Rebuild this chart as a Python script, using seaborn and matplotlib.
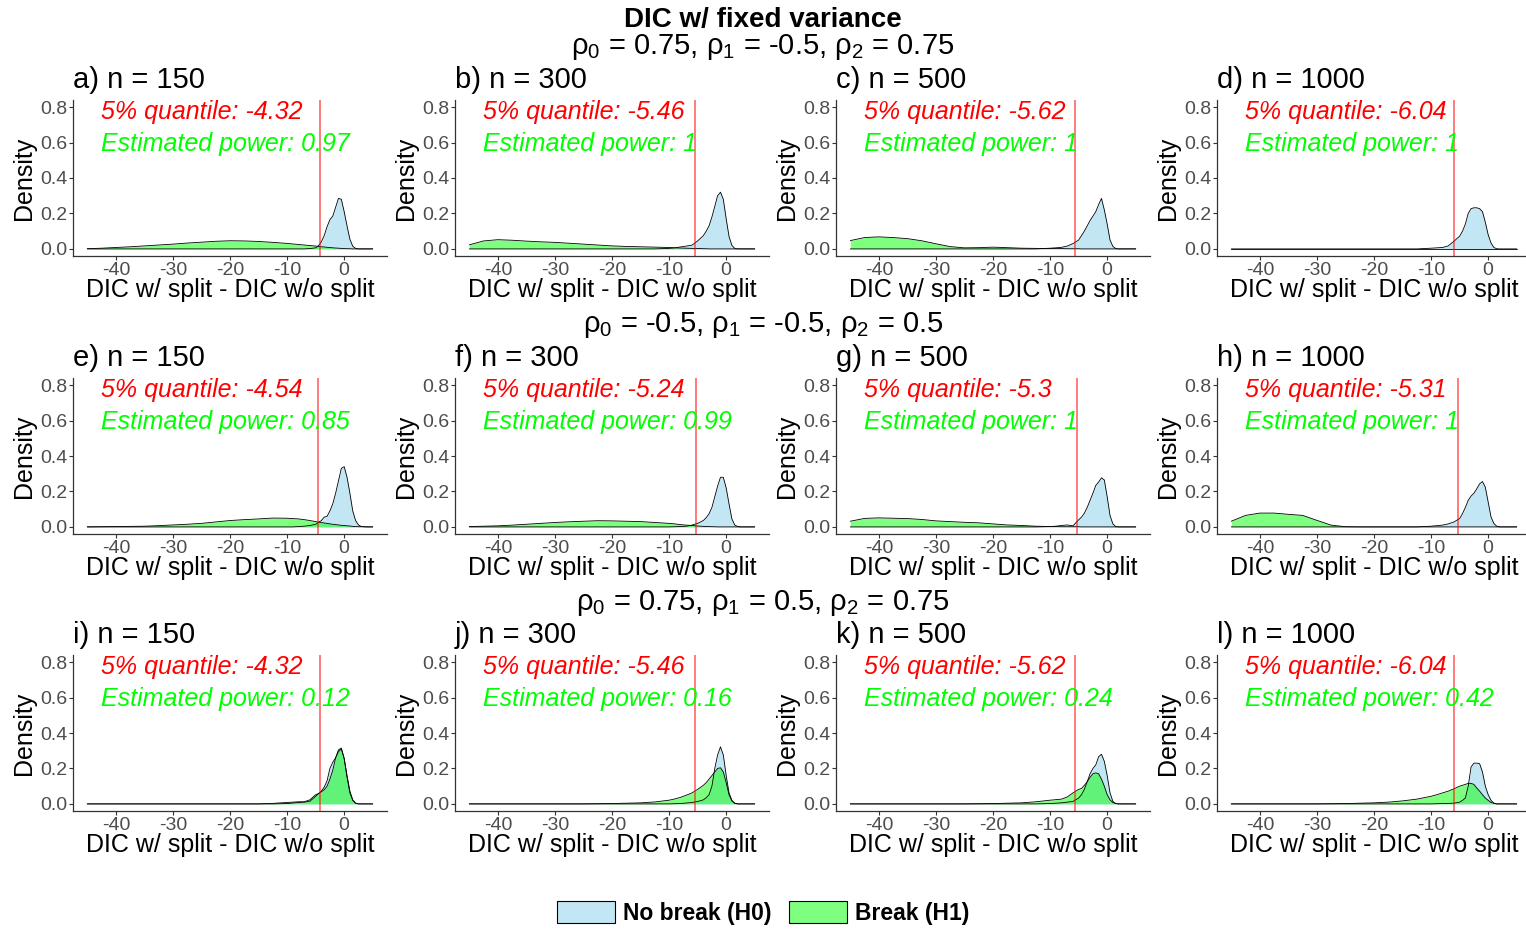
import matplotlib
matplotlib.use("Agg")
import matplotlib.pyplot as plt
import matplotlib.colors as mcolors
import seaborn as sns
from matplotlib.patches import Patch

XG = [-45, -42.5, -40, -37.5, -35, -32.5, -30, -27.5, -25, -22.5,
      -20, -17.5, -15, -12.5, -10,
      -9, -8, -7, -6, -5,
      -4.5, -4, -3.5, -3, -2.5, -2, -1.5, -1, -0.5, 0,
      0.5, 1, 1.5, 2, 2.5, 3, 4, 5]

# row 1: rho0 = 0.75, rho1 = -0.5, rho2 = 0.75
h0_a = [0]*15 + [0, 0, 0, 0.002, 0.006,
        0.018, 0.04, 0.075, 0.125, 0.165, 0.185, 0.235, 0.285, 0.28, 0.21,
        0.13, 0.055, 0.015, 0.003, 0, 0, 0, 0]
h1_a = [0.001, 0.004, 0.008, 0.012, 0.017, 0.022, 0.027, 0.033, 0.038, 0.043,
        0.046, 0.045, 0.042, 0.037, 0.031,
        0.028, 0.025, 0.022, 0.019, 0.016,
        0.014, 0.012, 0.011, 0.009, 0.008, 0.006, 0.005, 0.004, 0.003, 0.002,
        0.001, 0.001, 0, 0, 0, 0, 0, 0]
h0_b = [0]*14 + [0.003,
        0.006, 0.011, 0.016, 0.021, 0.045,
        0.06, 0.075, 0.1, 0.13, 0.18, 0.24, 0.3, 0.32, 0.28, 0.17,
        0.07, 0.02, 0.003, 0, 0, 0, 0, 0]
h1_b = [0.023, 0.045, 0.052, 0.049, 0.044, 0.04, 0.037, 0.032, 0.027, 0.022,
        0.017, 0.014, 0.012, 0.01, 0.008,
        0.006, 0.005, 0.004, 0.003, 0.002,
        0.002, 0.001, 0.001, 0, 0, 0, 0, 0, 0, 0,
        0, 0, 0, 0, 0, 0, 0, 0]
h0_c = [0]*14 + [0.004,
        0.006, 0.009, 0.016, 0.03, 0.05,
        0.075, 0.1, 0.13, 0.16, 0.185, 0.21, 0.25, 0.285, 0.22, 0.14,
        0.05, 0.014, 0.002, 0, 0, 0, 0, 0]
h1_c = [0.047, 0.064, 0.068, 0.064, 0.058, 0.046, 0.029, 0.013, 0.006, 0.007,
        0.01, 0.007, 0.004, 0.003, 0.002,
        0.002, 0.002, 0.001, 0.001, 0.001,
        0, 0, 0, 0, 0, 0, 0, 0, 0, 0,
        0, 0, 0, 0, 0, 0, 0, 0]
h0_d = [0]*14 + [0.004,
        0.006, 0.008, 0.017, 0.043, 0.072,
        0.1, 0.14, 0.2, 0.227, 0.232, 0.232, 0.227, 0.21, 0.15, 0.08,
        0.033, 0.008, 0.001, 0, 0, 0, 0, 0]
h1_d = [0]*38

# row 2: rho0 = -0.5, rho1 = -0.5, rho2 = 0.5
h0_e = [0]*15 + [0, 0.002, 0.004, 0.008, 0.015,
        0.025, 0.036, 0.055, 0.06, 0.09, 0.13, 0.19, 0.26, 0.33, 0.34,
        0.28, 0.19, 0.09, 0.036, 0.011, 0.002, 0, 0]
h1_e = [0, 0.001, 0.002, 0.003, 0.004, 0.007, 0.011, 0.015, 0.02, 0.028,
        0.036, 0.041, 0.045, 0.05, 0.049,
        0.047, 0.045, 0.041, 0.036, 0.03,
        0.027, 0.025, 0.022, 0.02, 0.017, 0.015, 0.013, 0.011, 0.009, 0.008,
        0.006, 0.005, 0.003, 0.002, 0.001, 0.001, 0, 0]
h0_f = [0]*15 + [0.001, 0.002, 0.004, 0.01, 0.02,
        0.028, 0.036, 0.052, 0.074, 0.11, 0.17, 0.23, 0.28, 0.28, 0.22,
        0.13, 0.045, 0.011, 0.002, 0, 0, 0, 0]
h1_f = [0.002, 0.004, 0.006, 0.01, 0.015, 0.02, 0.025, 0.029, 0.032, 0.035,
        0.034, 0.032, 0.03, 0.025, 0.02,
        0.017, 0.013, 0.01, 0.008, 0.005,
        0.004, 0.003, 0.002, 0.002, 0.001, 0.001, 0, 0, 0, 0,
        0, 0, 0, 0, 0, 0, 0, 0]
h0_g = [0]*14 + [0.002,
        0.004, 0.008, 0.011, 0.006, 0.04,
        0.055, 0.077, 0.11, 0.15, 0.19, 0.234, 0.253, 0.277, 0.265, 0.17,
        0.064, 0.017, 0.002, 0, 0, 0, 0, 0]
h1_g = [0.032, 0.048, 0.051, 0.049, 0.047, 0.042, 0.034, 0.03, 0.026, 0.023,
        0.017, 0.011, 0.008, 0.004, 0.002,
        0.002, 0.001, 0.001, 0.001, 0.001,
        0, 0, 0, 0, 0, 0, 0, 0, 0, 0,
        0, 0, 0, 0, 0, 0, 0, 0]
h0_h = [0]*14 + [0.004,
        0.007, 0.01, 0.017, 0.028, 0.047,
        0.075, 0.11, 0.15, 0.174, 0.19, 0.215, 0.243, 0.256, 0.224, 0.14,
        0.056, 0.019, 0.004, 0, 0, 0, 0, 0]
h1_h = [0.032, 0.065, 0.078, 0.078, 0.071, 0.065, 0.037, 0.01, 0.001, 0] + [0]*28

# row 3: rho0 = 0.75, rho1 = 0.5, rho2 = 0.75
h0_i = [0]*14 + [0.002,
        0.005, 0.008, 0.01, 0.015, 0.043,
        0.058, 0.072, 0.095, 0.13, 0.2, 0.235, 0.26, 0.295, 0.31, 0.256,
        0.16, 0.072, 0.023, 0.004, 0, 0, 0, 0]
h1_i = [0]*13 + [0.003, 0.008,
        0.01, 0.012, 0.012, 0.023, 0.052,
        0.058, 0.068, 0.08, 0.1, 0.14, 0.19, 0.26, 0.305, 0.315, 0.256,
        0.15, 0.062, 0.02, 0.004, 0, 0, 0, 0]
h0_j = [0]*15 + [0.001, 0.002, 0.005, 0.008, 0.014,
        0.018, 0.023, 0.035, 0.052, 0.1, 0.2, 0.276, 0.322, 0.276, 0.16,
        0.062, 0.02, 0.004, 0, 0, 0, 0, 0]
h1_j = [0]*9 + [0.001,
        0.002, 0.004, 0.006, 0.011, 0.021,
        0.028, 0.037, 0.049, 0.062, 0.082,
        0.093, 0.105, 0.12, 0.14, 0.16, 0.18, 0.2, 0.204, 0.18, 0.12,
        0.052, 0.017, 0.004, 0, 0, 0, 0, 0]
h0_k = [0]*14 + [0.002,
        0.004, 0.006, 0.01, 0.014, 0.033,
        0.052, 0.082, 0.125, 0.17, 0.2, 0.22, 0.266, 0.28, 0.24, 0.16,
        0.062, 0.014, 0.002, 0, 0, 0, 0, 0]
h1_k = [0]*9 + [0.001,
        0.002, 0.004, 0.006, 0.012, 0.021,
        0.024, 0.027, 0.039, 0.062, 0.082,
        0.087, 0.105, 0.124, 0.15, 0.17, 0.175, 0.17, 0.14, 0.1, 0.052,
        0.023, 0.008, 0.002, 0, 0, 0, 0, 0]
h0_l = [0]*15 + [0.001, 0.002, 0.003, 0.004, 0.01,
        0.02, 0.033, 0.1, 0.208, 0.23, 0.23, 0.227, 0.18, 0.1, 0.052,
        0.02, 0.004, 0, 0, 0, 0, 0, 0]
h1_l = [0]*7 + [0.001, 0.002, 0.004,
        0.006, 0.01, 0.017, 0.027, 0.043,
        0.052, 0.062, 0.072, 0.085, 0.1,
        0.105, 0.11, 0.116, 0.116, 0.11, 0.09, 0.072, 0.052, 0.033, 0.02,
        0.008, 0.004, 0, 0, 0, 0, 0, 0]

H0 = [h0_a, h0_b, h0_c, h0_d, h0_e, h0_f, h0_g, h0_h, h0_i, h0_j, h0_k, h0_l]
H1 = [h1_a, h1_b, h1_c, h1_d, h1_e, h1_f, h1_g, h1_h, h1_i, h1_j, h1_k, h1_l]
PANEL_TITLES = ["a) n = 150", "b) n = 300", "c) n = 500", "d) n = 1000",
                "e) n = 150", "f) n = 300", "g) n = 500", "h) n = 1000",
                "i) n = 150", "j) n = 300", "k) n = 500", "l) n = 1000"]
QUANTILES = [-4.32, -5.46, -5.62, -6.04, -4.54, -5.24, -5.3, -5.31,
             -4.32, -5.46, -5.62, -6.04]
POWERS = ["0.97", "1", "1", "1", "0.85", "0.99", "1", "1",
          "0.12", "0.16", "0.24", "0.42"]
ROW_HEADS = [r"ρ$_0$ = 0.75, ρ$_1$ = -0.5, ρ$_2$ = 0.75",
             r"ρ$_0$ = -0.5, ρ$_1$ = -0.5, ρ$_2$ = 0.5",
             r"ρ$_0$ = 0.75, ρ$_1$ = 0.5, ρ$_2$ = 0.75"]
LEGEND_LABELS = ["No break (H0)", "Break (H1)"]

sns.set_style("white")
plt.rcParams["font.family"] = ["Liberation Sans", "DejaVu Sans"]
plt.rcParams["mathtext.fontset"] = "custom"
plt.rcParams["mathtext.rm"] = "Liberation Sans"
plt.rcParams["mathtext.it"] = "Liberation Sans:italic"
plt.rcParams["axes.unicode_minus"] = False
plt.rcParams["text.color"] = "black"
plt.rcParams["axes.labelcolor"] = "black"

blue = mcolors.to_rgba("skyblue", 0.5)
green = mcolors.to_rgba("#00ff00", 0.5)

W, H = 1526, 930
fig = plt.figure(figsize=(W / 100, H / 100), dpi=100)
lefts = [73, 455, 836, 1217]
bottoms = [256, 534, 811]

for r in range(3):
    for c in range(4):
        k = r * 4 + c
        ax = fig.add_axes([lefts[c] / W, 1 - bottoms[r] / H, 314 / W, 156 / H])
        ax.fill_between(XG, H0[k], color=blue, lw=0)
        sns.lineplot(x=XG, y=H0[k], ax=ax, color="black", linewidth=0.6,
                     estimator=None, sort=False)
        ax.fill_between(XG, H1[k], color=green, lw=0)
        sns.lineplot(x=XG, y=H1[k], ax=ax, color="black", linewidth=0.6,
                     estimator=None, sort=False)
        ax.axvline(QUANTILES[k], color="red", alpha=0.6, lw=1.2)

        ax.set_xlim(-47.5, 7.5)
        ax.set_ylim(-0.04, 0.84)
        ax.set_xticks([-40, -30, -20, -10, 0])
        ax.set_xticklabels(["-40", "-30", "-20", "-10", "0"])
        ax.set_yticks([0, 0.2, 0.4, 0.6, 0.8])
        ax.set_yticklabels(["0.0", "0.2", "0.4", "0.6", "0.8"])
        ax.tick_params(axis="both", labelsize=14, labelcolor="#4d4d4d",
                       color="#333333", length=3, width=0.8, pad=1,
                       bottom=True, left=True)
        for s in ["top", "right"]:
            ax.spines[s].set_visible(False)
        for s in ["left", "bottom"]:
            ax.spines[s].set_color("#333333")
            ax.spines[s].set_linewidth(0.9)
        ax.set_xlabel("DIC w/ split - DIC w/o split", fontsize=18, labelpad=-0.5)
        ax.set_ylabel("Density", fontsize=18, labelpad=3)

        ax.text(0, 1.077, PANEL_TITLES[k], transform=ax.transAxes,
                fontsize=21, ha="left", va="baseline")
        ax.text(-42.6, 0.734, f"5% quantile: {QUANTILES[k]}", color="red",
                style="italic", fontsize=18, va="baseline")
        ax.text(-42.6, 0.55, f"Estimated power: {POWERS[k]}", color="#00ff00",
                style="italic", fontsize=18, va="baseline")

fig.text(0.5, 1 - 20 / H, "DIC w/ fixed variance", ha="center", va="center",
         fontsize=20, fontweight="bold")
for r, y in enumerate([47, 325, 603]):
    fig.text(0.5, 1 - y / H, ROW_HEADS[r], ha="center", va="center", fontsize=21)

handles = [Patch(facecolor=blue, edgecolor="black", lw=0.8),
           Patch(facecolor=green, edgecolor="black", lw=0.8)]
fig.legend(handles, LEGEND_LABELS, loc="center", ncol=2, frameon=False,
           bbox_to_anchor=(763 / W, 1 - 913 / H),
           prop={"weight": "bold", "size": 16.5},
           handlelength=2.55, handleheight=1.05, handletextpad=0.35,
           columnspacing=0.75)

fig.savefig("out.png", dpi=100)
